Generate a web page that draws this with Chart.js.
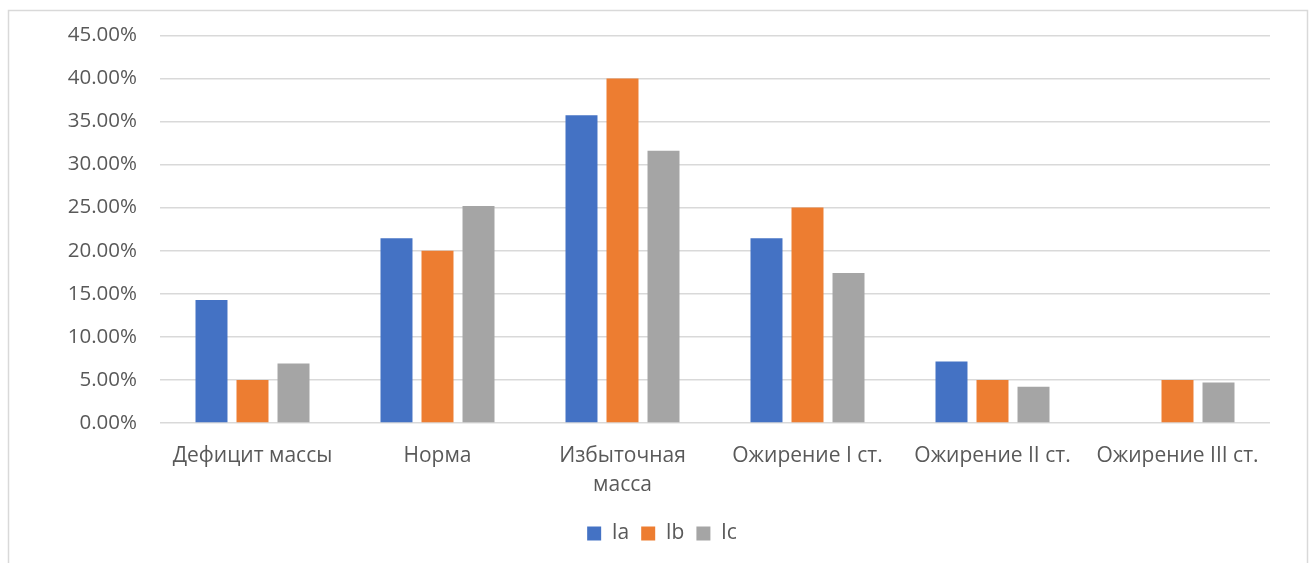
<!DOCTYPE html>
<html>
<head>
<meta charset="utf-8">
<script src="https://cdn.jsdelivr.net/npm/chart.js@4"></script>
<style>
  html, body { margin: 0; padding: 0; background: #fff; }
  #wrap { width: 1313px; height: 563px; }
</style>
</head>
<body>
<div id="wrap"><canvas id="bmi_chart" width="1313" height="563"></canvas></div>
<script>
var labels = ["Дефицит массы", "Норма", ["Избыточная", "масса"], "Ожирение I ст.", "Ожирение II ст.", "Ожирение III ст."];
var seriesNames = ["Ia", "Ib", "Ic"];
var iaData = [14.29, 21.43, 35.71, 21.43, 7.14, 0];
var ibData = [5, 20, 40, 25, 5, 5];
var icData = [6.9, 25.2, 31.6, 17.4, 4.2, 4.7];
var yTicks = [0, 5, 10, 15, 20, 25, 30, 35, 40, 45];

var textColor = '#595959';
var fontFamily = '"Open Sans", sans-serif';

// light frame around the whole chart, like the office export
var framePlugin = {
    id: 'frame',
    beforeDraw: function(chart) {
        var ctx = chart.ctx;
        ctx.save();
        ctx.fillStyle = '#ffffff';
        ctx.fillRect(0, 0, chart.width, chart.height);
        ctx.strokeStyle = '#d9d9d9';
        ctx.lineWidth = 1.5;
        ctx.strokeRect(8.5, 10.5, 1299, 570);
        ctx.restore();
    }
};

var canvas = document.getElementById("bmi_chart");

var dataIa = {
    label: seriesNames[0],
    data: iaData,
    backgroundColor: '#4472C4'
};
var dataIb = {
    label: seriesNames[1],
    data: ibData,
    backgroundColor: '#ED7D31'
};
var dataIc = {
    label: seriesNames[2],
    data: icData,
    backgroundColor: '#A5A5A5'
};

var chartOptions = {
    responsive: false,
    animation: false,
    layout: {
        // left padding keeps the legend centred where the original has it
        padding: { left: 54, right: 43, top: 33, bottom: 9 }
    },
    datasets: {
        bar: {
            categoryPercentage: 0.665,
            barPercentage: 0.78
        }
    },
    plugins: {
        tooltip: { enabled: false },
        legend: {
            display: true,
            position: 'bottom',
            labels: {
                boxWidth: 14,
                boxHeight: 14,
                padding: 12,
                color: textColor,
                font: { family: fontFamily, size: 21 }
            }
        }
    },
    scales: {
        x: {
            grid: { display: false, drawTicks: false },
            border: { display: false },
            ticks: {
                color: textColor,
                font: { family: fontFamily, size: 21, lineHeight: 1.35 },
                padding: 19,
                maxRotation: 0,
                autoSkip: false
            },
            afterFit: function(scale) { scale.height = 88; }
        },
        y: {
            min: 0,
            max: 45,
            afterBuildTicks: function(scale) {
                scale.ticks = yTicks.map(function(v) { return { value: v }; });
            },
            grid: { color: '#d9d9d9', lineWidth: 1.5, drawTicks: false },
            border: { display: false },
            ticks: {
                color: textColor,
                font: { family: fontFamily, size: 20.5 },
                padding: 23,
                callback: function(v) { return v.toFixed(2) + '%'; }
            },
            afterFit: function(scale) { scale.width = 106; }
        }
    }
};

var barChart = new Chart(canvas, {
    type: 'bar',
    data: { labels: labels, datasets: [dataIa, dataIb, dataIc] },
    options: chartOptions,
    plugins: [framePlugin]
});
</script>
</body>
</html>
